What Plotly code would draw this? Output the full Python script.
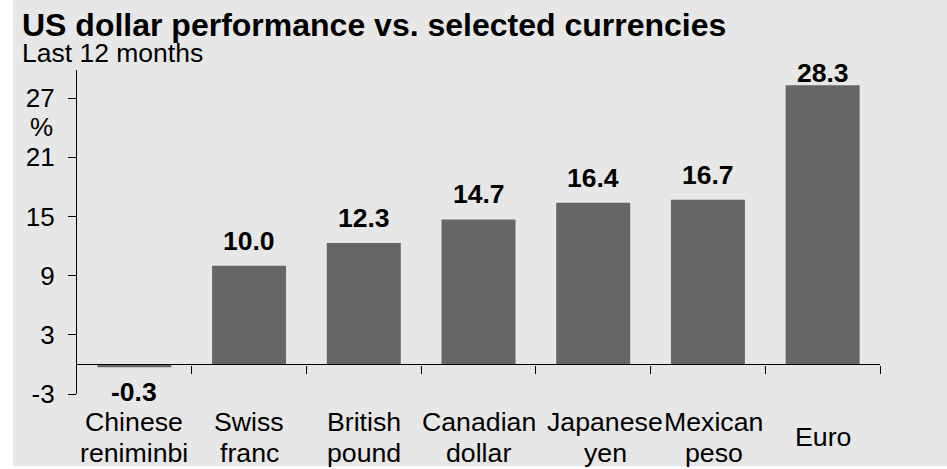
import plotly.graph_objects as go

# Currency categories (two-line labels) and 12-month USD change, %
label_line1 = ["Chinese", "Swiss", "British", "Canadian", "Japanese", "Mexican", "Euro"]
label_line2 = ["reniminbi", "franc", "pound", "dollar", "yen", "peso", ""]
values = [-0.3, 10.0, 12.3, 14.7, 16.4, 16.7, 28.3]
y_ticks = [-3, 3, 9, 15, 21, 27]
y_tick_text = ["-3", "3", "9", "15", "21", "27"]

FONT = "Liberation Sans, Arial, sans-serif"
BG = "#e7e7e7"
BAR = "#666666"
LABEL_SIZE = 26.7
Y_RANGE = [-3, 29.85]
PLOT_H = 324  # px height of the plotting area
PX_PER_UNIT = PLOT_H / (Y_RANGE[1] - Y_RANGE[0])
# horizontal nudges (px) of the wrapped category labels
LABEL_XSHIFT = [0, 0, 0, 0, 12, 6, 0]

x_pos = list(range(len(values)))

fig = go.Figure()
fig.add_trace(go.Bar(
    x=x_pos, y=values, width=0.645,
    marker=dict(color=BAR, line=dict(width=0)),
    hoverinfo="skip",
))

annotations = []
# value labels above / below bars, kept inside the plotting area at the top
for x, v in zip(x_pos, values):
    if v >= 0:
        shift = min(25, (Y_RANGE[1] - v) * PX_PER_UNIT - 3)
    else:
        shift = -25
    annotations.append(dict(
        x=x, y=v, xref="x", yref="y", text=f"<b>{v:.1f}</b>", showarrow=False,
        yanchor="middle", yshift=shift,
        font=dict(family=FONT, size=26.5, color="black"),
    ))
# category labels under the plot
for x, l1, l2, dx in zip(x_pos, label_line1, label_line2, LABEL_XSHIFT):
    lines = [(l1, -28), (l2, -59)] if l2 else [(l1, -43)]
    for txt, dy in lines:
        annotations.append(dict(x=x, y=0, xref="x", yref="paper", text=txt, showarrow=False,
                                yanchor="middle", yshift=dy, xshift=dx,
                                font=dict(family=FONT, size=LABEL_SIZE, color="black")))

# title, subtitle and unit
annotations += [
    dict(x=-0.0705, y=1, xref="paper", yref="paper", xanchor="left", yanchor="middle",
         yshift=45, showarrow=False, text="<b>US dollar performance vs. selected currencies</b>",
         font=dict(family=FONT, size=32, color="black")),
    dict(x=-0.0705, y=1, xref="paper", yref="paper", xanchor="left", yanchor="middle",
         yshift=17, showarrow=False, text="Last 12 months",
         font=dict(family=FONT, size=26.5, color="black")),
    dict(x=-0.0436, y=1, xref="paper", yref="paper", xanchor="center", yanchor="middle",
         yshift=-57, showarrow=False, text="%",
         font=dict(family=FONT, size=26, color="black")),
]

fig.update_layout(
    width=947, height=469,
    margin=dict(l=77, r=67, t=70, b=75, pad=0),
    paper_bgcolor=BG,
    plot_bgcolor=BG,
    showlegend=False,
    annotations=annotations,
    # thin white margin strips on the left and bottom edges of the page
    shapes=[
        dict(type="rect", xref="paper", yref="paper",
             x0=-77 / 803, x1=(13 - 77) / 803, y0=-75 / PLOT_H, y1=394 / PLOT_H,
             fillcolor="white", line=dict(width=0), layer="above"),
        dict(type="rect", xref="paper", yref="paper",
             x0=-77 / 803, x1=(947 - 77) / 803, y0=-75 / PLOT_H, y1=(394 - 466) / PLOT_H,
             fillcolor="white", line=dict(width=0), layer="above"),
    ],
    xaxis=dict(
        range=[-0.5, 6.5], anchor="free", position=-Y_RANGE[0] / (Y_RANGE[1] - Y_RANGE[0]),
        showline=True, linecolor="black", linewidth=1.3,
        ticks="outside", ticklen=8, tickwidth=1.3, tickcolor="black",
        tickvals=[0.5, 1.5, 2.5, 3.5, 4.5, 5.5, 6.5],
        showticklabels=False, showgrid=False, zeroline=False, fixedrange=True,
    ),
    yaxis=dict(
        range=Y_RANGE,
        showline=True, linecolor="black", linewidth=1.3,
        ticks="outside", ticklen=8, tickwidth=1.3, tickcolor="black",
        tickvals=y_ticks, ticktext=y_tick_text, ticklabelstandoff=8,
        tickfont=dict(family=FONT, size=26, color="black"),
        showgrid=False, zeroline=False, fixedrange=True,
    ),
)

fig.write_html("out.html", config={"displayModeBar": False})
